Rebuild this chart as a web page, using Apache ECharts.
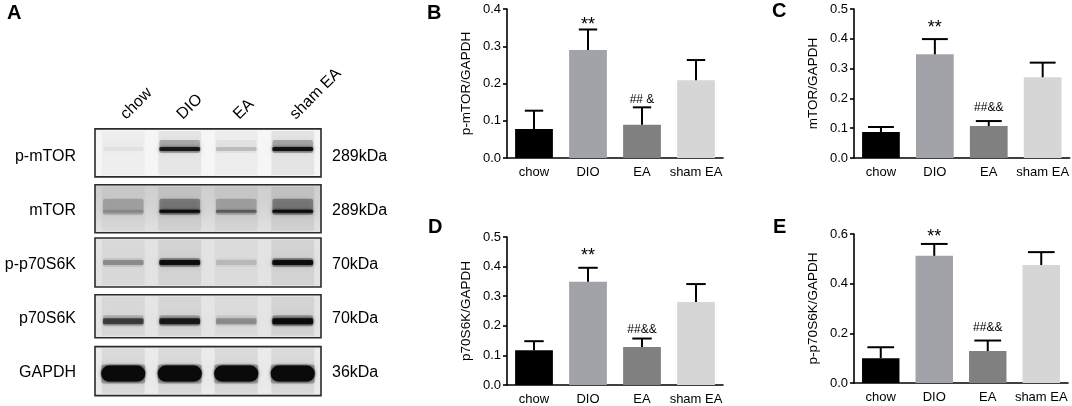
<!DOCTYPE html>
<html><head><meta charset="utf-8">
<script src="https://cdn.jsdelivr.net/npm/echarts@6/dist/echarts.min.js"></script>
<style>html,body{margin:0;padding:0;background:#fff}#c{width:1072px;height:406px}</style>
</head><body><div id="c"></div>
<script>
// ---------- data ----------
const groups = ['chow', 'DIO', 'EA', 'sham EA'];
const barColors = ['#000000', '#a2a2a9', '#808080', '#d6d6d6'];

const pmTORMean = [0.078, 0.290, 0.089, 0.209];
const pmTORUpper = [0.127, 0.345, 0.136, 0.263];
const mTORMean = [0.087, 0.348, 0.107, 0.271];
const mTORUpper = [0.104, 0.399, 0.124, 0.320];
const p70Mean = [0.117, 0.349, 0.128, 0.280];
const p70Upper = [0.148, 0.396, 0.157, 0.341];
const pp70Mean = [0.100, 0.512, 0.129, 0.475];
const pp70Upper = [0.144, 0.560, 0.171, 0.527];

const annotB = ['', '**', '## &', ''];
const annotC = ['', '**', '##&&', ''];
const annotD = ['', '**', '##&&', ''];
const annotE = ['', '**', '##&&', ''];

const blotLanes = ['chow', 'DIO', 'EA', 'sham EA'];
const blotProteins = ['p-mTOR', 'mTOR', 'p-p70S6K', 'p70S6K', 'GAPDH'];
const blotSizes = ['289kDa', '289kDa', '70kDa', '70kDa', '36kDa'];
const bandPmTOR = [0.04, 0.85, 0.16, 0.90];
const bandMTOR = [0.15, 0.95, 0.40, 0.95];
const bandPp70 = [0.28, 0.92, 0.12, 0.95];
const bandP70 = [0.60, 0.82, 0.28, 1.00];
const bandGAPDH = [1.00, 1.00, 1.00, 1.00];
const bandRows = [bandPmTOR, bandMTOR, bandPp70, bandP70, bandGAPDH];

// ---------- styles ----------
const FONT = '"Liberation Sans", Arial, Helvetica, sans-serif';
const blotStyle = {
  boxHeight: [48, 48, 49, 43, 49],
  boxShift: [-4, -2, -2, -2, -1],
  bandShift: [-4, 2.5, 0, 5, 2.5],
  bandThick: [4, 3, 5, 6, 16],
  haloUp: [7, 11, 2, 3, 1],
  haloAlpha: [0.28, 0.36, 0.28, 0.28, 0.28],
  bg: ['#f6f6f6', null, '#e3e3e3', '#e5e5e5', '#ebebeb']
};
const panelStyle = [
  { left: 507, top: 9, width: 216, height: 149, cap: 0.34, gapStar: 4, gapHash: 8 },
  { left: 854, top: 9, width: 216, height: 149, cap: 0.48, gapStar: 11, gapHash: 13 },
  { left: 507, top: 237, width: 216, height: 149, cap: 0.36, gapStar: 12, gapHash: 9 },
  { left: 854, top: 234, width: 214, height: 149, cap: 0.50, gapStar: 7, gapHash: 13 }
];
const panels = [
  { name: 'p-mTOR/GAPDH', max: 0.4, interval: 0.1, mean: pmTORMean, upper: pmTORUpper, annot: annotB },
  { name: 'mTOR/GAPDH', max: 0.5, interval: 0.1, mean: mTORMean, upper: mTORUpper, annot: annotC },
  { name: 'p70S6K/GAPDH', max: 0.5, interval: 0.1, mean: p70Mean, upper: p70Upper, annot: annotD },
  { name: 'p-p70S6K/GAPDH', max: 0.6, interval: 0.2, mean: pp70Mean, upper: pp70Upper, annot: annotE }
];

// ---------- build ----------
const grid = [{ left: 95, top: 130, width: 226, height: 269 }];
const xAxis = [{
  gridIndex: 0, type: 'category', position: 'top', data: blotLanes,
  axisLine: { show: false }, axisTick: { show: false },
  axisLabel: { rotate: -45, fontSize: 16, margin: 13, color: '#000', fontFamily: FONT, interval: 0 }
}];
const yAxis = [{
  gridIndex: 0, type: 'category', inverse: true, data: blotProteins,
  axisLine: { show: false }, axisTick: { show: false },
  axisLabel: { fontSize: 16, margin: 19, color: '#000', fontFamily: FONT }
}, {
  gridIndex: 0, type: 'category', inverse: true, position: 'right', data: blotSizes,
  axisLine: { show: false }, axisTick: { show: false },
  axisLabel: { fontSize: 16, margin: 11, color: '#000', fontFamily: FONT }
}];
const series = [];

// blot boxes
series.push({
  type: 'custom', xAxisIndex: 0, yAxisIndex: 0, z: 1,
  data: blotProteins.map((p, i) => [0, i]),
  renderItem: function (params, api) {
    const i = api.value(1);
    const cs = params.coordSys;
    const c = api.coord([0, i]);
    const h = blotStyle.boxHeight[i];
    const y = c[1] + blotStyle.boxShift[i] - h / 2;
    let fill = blotStyle.bg[i];
    if (!fill) {
      fill = new echarts.graphic.LinearGradient(0, 0, 0, 1, [
        { offset: 0, color: '#cdcdcd' }, { offset: 0.5, color: '#d6d6d6' }, { offset: 1, color: '#e2e2e2' }
      ]);
    }
    return {
      type: 'rect',
      shape: { x: cs.x, y: y, width: cs.width, height: h },
      style: { fill: fill, stroke: '#2b2b2b', lineWidth: 1.6 }
    };
  }
});
// blot bands
const bandData = [];
bandRows.forEach((row, p) => row.forEach((v, l) => bandData.push([l, p, v])));
series.push({
  type: 'custom', xAxisIndex: 0, yAxisIndex: 0, z: 2,
  data: bandData,
  renderItem: function (params, api) {
    const l = api.value(0), p = api.value(1), a = api.value(2);
    const c = api.coord([l, p]);
    const laneW = api.size([1, 0])[0];
    const h = blotStyle.boxHeight[p];
    const boxC = c[1] + blotStyle.boxShift[p];
    const bw = laneW * (p === 4 ? 0.78 : 0.72);
    const yc = boxC + blotStyle.bandShift[p];
    const t = blotStyle.bandThick[p];
    const up = blotStyle.haloUp[p];
    const ha = blotStyle.haloAlpha[p] * Math.max(a, p === 1 ? 0.55 : 0);
    const x0 = c[0] - bw / 2;
    return {
      type: 'group',
      children: [
        { type: 'rect', shape: { x: c[0] - laneW * 0.38, y: boxC - h / 2 + 2, width: laneW * 0.76, height: h - 4 },
          style: { fill: 'rgba(0,0,0,' + (0.03 + a * 0.04) + ')' } },
        { type: 'rect', shape: { x: x0, y: yc - t / 2 - up, width: bw, height: t + up + 2, r: 2 },
          style: { fill: 'rgba(0,0,0,' + ha + ')', shadowBlur: 6, shadowColor: 'rgba(0,0,0,' + ha + ')' } },
        { type: 'rect', shape: { x: x0, y: yc - t / 2, width: bw, height: t, r: p === 4 ? t / 2 : 1.5 },
          style: { fill: 'rgba(10,10,10,' + a + ')', shadowBlur: 3, shadowColor: 'rgba(0,0,0,' + (a * 0.8) + ')' } }
      ]
    };
  }
});

panels.forEach((pn, k) => {
  const ps = panelStyle[k];
  const gi = k + 1;
  grid.push({ left: ps.left, top: ps.top, width: ps.width, height: ps.height });
  xAxis.push({
    gridIndex: gi, type: 'category', data: groups,
    axisLine: { lineStyle: { color: '#000', width: 1.6 } },
    axisTick: { show: false },
    axisLabel: { fontSize: 13, color: '#000', margin: 8, fontFamily: FONT, interval: 0 }
  });
  yAxis.push({
    gridIndex: gi, type: 'value', min: 0, max: pn.max, interval: pn.interval,
    name: pn.name, nameLocation: 'middle', nameGap: 34, nameRotate: 90,
    nameTextStyle: { fontSize: 13.5, color: '#000', fontFamily: FONT },
    axisLine: { show: true, lineStyle: { color: '#000', width: 1.6 } },
    axisTick: { show: true, length: 4, lineStyle: { color: '#000', width: 1.6 } },
    splitLine: { show: false },
    axisLabel: { fontSize: 13, color: '#000', margin: 6, fontFamily: FONT, formatter: v => v.toFixed(1) }
  });
  const yi = k + 2;
  series.push({
    type: 'bar', xAxisIndex: gi, yAxisIndex: yi, barWidth: '70%', z: 2,
    data: pn.mean.map((v, j) => ({ value: v, itemStyle: { color: barColors[j] } }))
  });
  series.push({
    type: 'custom', xAxisIndex: gi, yAxisIndex: yi, z: 3,
    data: pn.mean.map((v, j) => [j, v, pn.upper[j]]),
    renderItem: function (params, api) {
      const j = api.value(0);
      const p0 = api.coord([j, api.value(1)]);
      const p1 = api.coord([j, api.value(2)]);
      const bw = api.size([1, 0])[0];
      const cw = bw * ps.cap / 2;
      const children = [
        { type: 'line', shape: { x1: p0[0], y1: p0[1], x2: p1[0], y2: p1[1] }, style: { stroke: '#000', lineWidth: 2 } },
        { type: 'line', shape: { x1: p1[0] - cw, y1: p1[1], x2: p1[0] + cw, y2: p1[1] }, style: { stroke: '#000', lineWidth: 2 } }
      ];
      const txt = pn.annot[params.dataIndex];
      if (txt) {
        const star = txt.indexOf('*') >= 0;
        children.push({
          type: 'text',
          style: {
            text: txt, x: p1[0], y: p1[1] - (star ? ps.gapStar : ps.gapHash),
            align: 'center', verticalAlign: 'middle',
            fontSize: star ? 18 : 12, fontFamily: FONT, fill: '#000'
          }
        });
      }
      return { type: 'group', children: children };
    }
  });
});

const letters = [['A', 7, 3], ['B', 427, 3], ['C', 772, 1], ['D', 428, 217], ['E', 773, 217]];
const graphic = letters.map(l => ({
  type: 'text', left: l[1], top: l[2],
  style: { text: l[0], fontSize: 20, fontWeight: 'bold', fontFamily: FONT, fill: '#000' }
}));

const chart = echarts.init(document.getElementById('c'), null, { renderer: 'canvas' });
chart.setOption({
  animation: false,
  backgroundColor: '#fff',
  grid: grid, xAxis: xAxis, yAxis: yAxis, series: series, graphic: graphic
});
</script>
</body></html>
